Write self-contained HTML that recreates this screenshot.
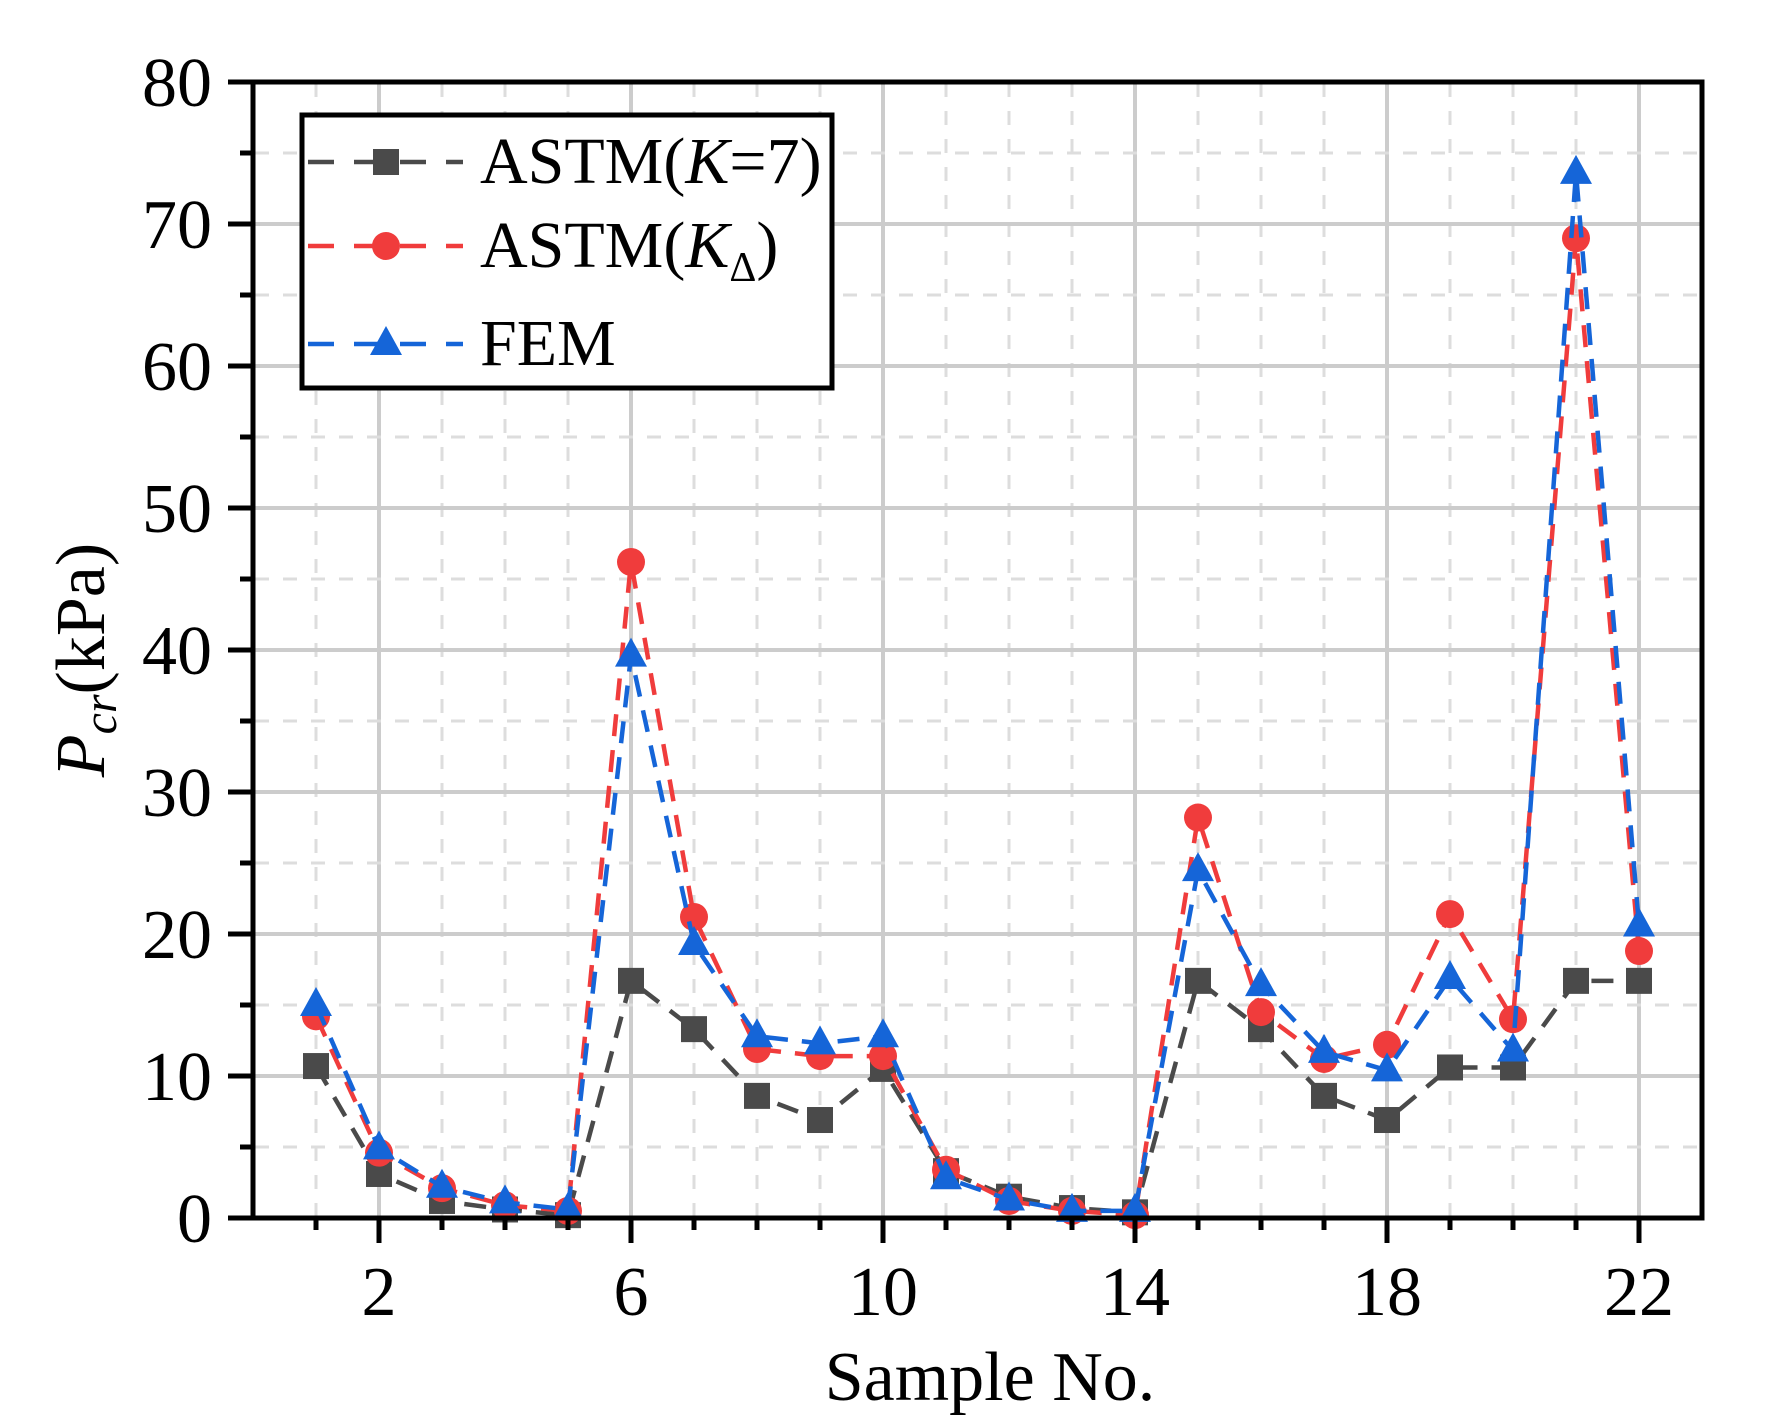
<!DOCTYPE html>
<html><head><meta charset="utf-8"><style>html,body{margin:0;padding:0;background:#fff}svg{display:block}</style></head>
<body>
<svg id="s" width="1773" height="1424" xmlns="http://www.w3.org/2000/svg" font-family="Liberation Serif, serif"></svg>
<script>
const X=n=>316+(n-1)*63, Y=v=>1218-v*14.2;
let h='<rect width="1773" height="1424" fill="#fff"/>';
for(let n=1;n<=23;n++){const x=X(n);if(x>1700)break;const maj=(n-2)%4===0;
 h+=`<line x1="${x}" y1="83" x2="${x}" y2="1216" stroke="${maj?'#ccc':'#ddd'}" stroke-width="${maj?4:3}" ${maj?'':'stroke-dasharray="14 14"'}/>`;}
for(let v=5;v<80;v+=5){const y=Y(v);const maj=v%10===0;
 h+=`<line x1="255" y1="${y}" x2="1700" y2="${y}" stroke="${maj?'#ccc':'#ddd'}" stroke-width="${maj?4:3}" ${maj?'':'stroke-dasharray="14 14"'}/>`;}
const B=[10.7,3.1,1.2,0.6,0.2,16.7,13.3,8.6,6.9,10.5,3.3,1.5,0.7,0.4,16.7,13.3,8.6,6.9,10.6,10.6,16.7,16.7];
const R=[14.2,4.6,2.1,0.9,0.5,46.2,21.2,11.9,11.4,11.4,3.4,1.2,0.5,0.2,28.2,14.5,11.2,12.2,21.4,14,69,18.8];
const U=[15,4.9,2.2,1.1,0.6,39.6,19.3,12.8,12.3,12.8,2.8,1.3,0.5,0.5,24.5,16.4,11.7,10.4,16.9,11.8,73.6,20.6];
function line(d,c){return `<polyline fill="none" stroke="${c}" stroke-width="4.5" stroke-dasharray="22 14" points="${d.map((v,i)=>X(i+1)+','+Y(v)).join(' ')}"/>`;}
const sq=(x,y)=>`<rect x="${x-13}" y="${y-13}" width="26" height="26" fill="#4a4a4a"/>`;
const ci=(x,y)=>`<circle cx="${x}" cy="${y}" r="14" fill="#f03c3c"/>`;
const tr=(x,y)=>`<polygon points="${x},${y-18} ${x-16},${y+11} ${x+16},${y+11}" fill="#1565d8"/>`;
h+=line(B,'#4a4a4a');B.forEach((v,i)=>h+=sq(X(i+1),Y(v)));
h+=line(R,'#f03c3c');R.forEach((v,i)=>h+=ci(X(i+1),Y(v)));
h+=line(U,'#1565d8');U.forEach((v,i)=>h+=tr(X(i+1),Y(v)));
h+=`<rect x="253" y="82" width="1449" height="1136" fill="none" stroke="#000" stroke-width="5"/>`;
h+=`<line x1="228" y1="82" x2="253" y2="82" stroke="#000" stroke-width="5"/><line x1="228" y1="1218" x2="1702" y2="1218" stroke="#000" stroke-width="5"/>`;
for(let v=0;v<=80;v+=5){const y=Y(v);const maj=v%10===0;
 h+=`<line x1="${maj?228:240}" y1="${y}" x2="253" y2="${y}" stroke="#000" stroke-width="5"/>`;
 if(maj)h+=`<text x="212" y="${y+24}" font-size="70" text-anchor="end">${v}</text>`;}
for(let n=1;n<=22;n++){const x=X(n);const maj=(n-2)%4===0;
 h+=`<line x1="${x}" y1="1218" x2="${x}" y2="${maj?1243:1230}" stroke="#000" stroke-width="5"/>`;
 if(maj)h+=`<text x="${x}" y="1315" font-size="70" text-anchor="middle">${n}</text>`;}
h+=`<text x="990" y="1400" font-size="70" text-anchor="middle">Sample No.</text>`;
h+=`<text transform="translate(104,660) rotate(-90)" font-size="70" text-anchor="middle"><tspan font-style="italic">P</tspan><tspan font-style="italic" font-size="48" dy="12">cr</tspan><tspan dy="-12">(kPa)</tspan></text>`;
h+=`<rect x="302" y="115" width="530" height="273" fill="#fff" stroke="#000" stroke-width="5"/>`;
const rows=[[162,'#4a4a4a',sq],[246,'#f03c3c',ci],[344,'#1565d8',tr]];
rows.forEach(([y,c,m])=>{h+=`<line x1="308" y1="${y}" x2="463" y2="${y}" stroke="${c}" stroke-width="4.5" stroke-dasharray="26 20"/>`+m(386,y);});
h+=`<text x="480" y="183" font-size="66">ASTM(<tspan font-style="italic">K</tspan>=7)</text>`;
h+=`<text x="480" y="267" font-size="66">ASTM(<tspan font-style="italic">K</tspan><tspan font-size="42" dy="14">Δ</tspan><tspan dy="-14">)</tspan></text>`;
h+=`<text x="480" y="365" font-size="66">FEM</text>`;
document.getElementById('s').innerHTML=h;
</script>
</body></html>
